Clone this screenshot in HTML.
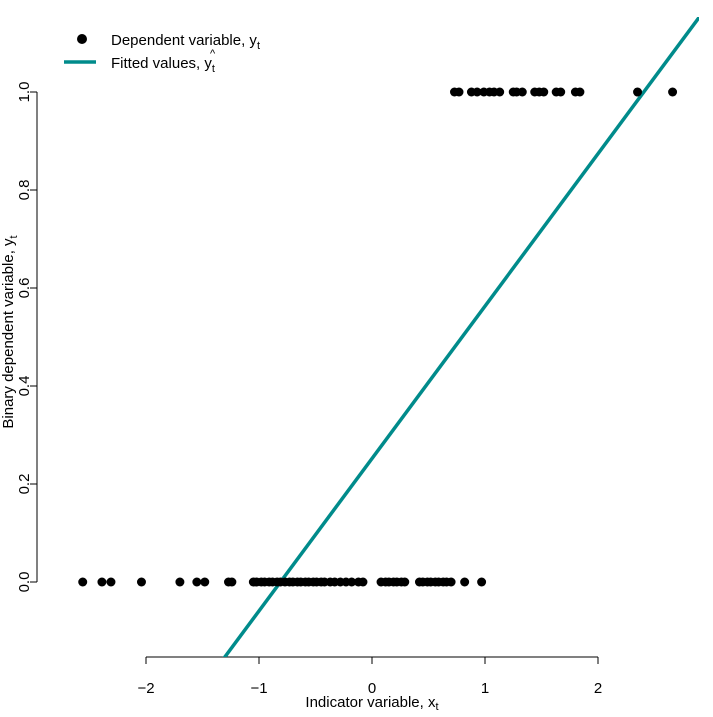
<!DOCTYPE html>
<html><head><meta charset="utf-8"><style>
html,body{margin:0;padding:0;background:#fff;overflow:hidden;width:713px;height:717px;}
svg{font-family:"Liberation Sans",sans-serif;display:block;overflow:hidden;position:absolute;left:0;top:0;}
</style></head><body>
<svg id="chart" width="713" height="717">
<defs><clipPath id="pc"><rect x="37" y="17" width="662" height="640"/></clipPath></defs>
<g id="axes"></g>
<g id="marks" clip-path="url(#pc)"></g>
<g>
<circle cx="82" cy="39" r="5" fill="#000"/>
<text x="111" y="45" font-size="15">Dependent variable, y<tspan font-size="11" dy="4">t</tspan></text>
<line x1="64" y1="62" x2="96" y2="62" stroke="#008b8b" stroke-width="3.5"/>
<text x="111" y="68" font-size="15">Fitted values, <tspan>y</tspan><tspan font-size="11" dy="4">t</tspan></text>
<text x="210" y="57" font-size="11">^</text>
</g>
<text x="372" y="707" font-size="15" text-anchor="middle">Indicator variable, x<tspan font-size="11" dy="3">t</tspan></text>
<text transform="translate(13,332) rotate(-90)" font-size="15" text-anchor="middle">Binary dependent variable, y<tspan font-size="11" dy="4">t</tspan></text>
</svg>
<script>
const xTicks=[-2,-1,0,1,2];
const yTicks=[0.0,0.2,0.4,0.6,0.8,1.0];
const x0Values=[-2.56,-2.39,-2.31,-2.04,-1.70,-1.55,-1.48,-1.27,-1.24,-1.05,-1.02,-0.98,-0.95,-0.91,-0.88,-0.84,-0.81,-0.77,-0.73,-0.70,-0.66,-0.63,-0.59,-0.56,-0.52,-0.49,-0.45,-0.42,-0.37,-0.33,-0.28,-0.23,-0.18,-0.12,-0.08,0.08,0.12,0.15,0.19,0.22,0.26,0.29,0.42,0.45,0.49,0.52,0.56,0.59,0.63,0.66,0.70,0.82,0.97];
const x1Values=[0.73,0.77,0.88,0.93,0.99,1.04,1.08,1.13,1.25,1.28,1.33,1.44,1.48,1.52,1.63,1.67,1.80,1.84,2.35,2.66];
const fitIntercept=0.252;
const fitSlope=0.311;
const sx=v=>372+113*v;
const sy=v=>582-490*v;
const NS="http://www.w3.org/2000/svg";
const axes=document.getElementById('axes'), marks=document.getElementById('marks');
function mk(tag,attrs,parent){const e=document.createElementNS(NS,tag);for(const k in attrs)e.setAttribute(k,attrs[k]);parent.appendChild(e);return e;}
let a=mk('line',{x1:sx(-2),x2:sx(2),y1:657,y2:657,stroke:'#000'},axes);


xTicks.forEach(t=>{
 const l=mk('line',{x1:sx(t),x2:sx(t),y1:657,y2:664,stroke:'#000'},axes);
 
 
 const tx=mk('text',{x:sx(t),y:693,'font-size':15,'text-anchor':'middle'},axes);
 tx.textContent=t<0?'\u2212'+Math.abs(t):String(t);
 
 
});
let b=mk('line',{x1:37,x2:37,y1:sy(0),y2:sy(1),stroke:'#000'},axes);


yTicks.forEach(t=>{
 const l=mk('line',{x1:30,x2:37,y1:sy(t),y2:sy(t),stroke:'#000'},axes);
 
 
 const tx=mk('text',{transform:`translate(29,${sy(t)}) rotate(-90)`,'font-size':15,'text-anchor':'middle'},axes);
 tx.textContent=t.toFixed(1);
 
 
});
const xa=-1.4,xb=2.95;
const fl=mk('line',{x1:sx(xa),y1:sy(fitIntercept+fitSlope*xa),x2:sx(xb),y2:sy(fitIntercept+fitSlope*xb),stroke:'#008b8b','stroke-width':3.5},marks);


x0Values.forEach(v=>{
 const c=mk('circle',{cx:sx(v),cy:sy(0),r:4.5,fill:'#000'},marks);
 
 
});
x1Values.forEach(v=>{
 const c=mk('circle',{cx:sx(v),cy:sy(1),r:4.5,fill:'#000'},marks);
 
 
});
</script>
</body></html>
